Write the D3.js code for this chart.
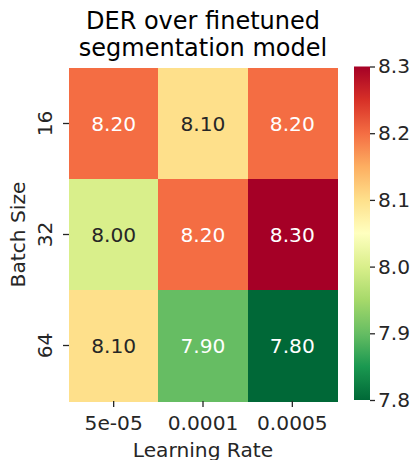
<!DOCTYPE html>
<html>
<head>
<meta charset="utf-8">
<script src="https://cdn.jsdelivr.net/npm/d3@7"></script>
<style>
  html, body { margin: 0; padding: 0; background: #fff; }
  svg { display: block; font-family: "DejaVu Sans", sans-serif; }
</style>
</head>
<body>
<svg id="chart" width="417" height="460"></svg>
<script>
// Diarization error rate grid: rows = batch size, columns = learning rate
const learningRates = ["5e-05", "0.0001", "0.0005"];
const batchSizes = ["16", "32", "64"];
const derValues = [
  [8.20, 8.10, 8.20],
  [8.00, 8.20, 8.30],
  [8.10, 7.90, 7.80]
];
const colorbarTicks = [7.8, 7.9, 8.0, 8.1, 8.2, 8.3];
const vmin = 7.8, vmax = 8.3;

const titleLines = ["DER over finetuned", "segmentation model"];
const xLabel = "Learning Rate";
const yLabel = "Batch Size";

// RdYlGn (ColorBrewer 11-class), reversed, linearly interpolated
const rdYlGn = ["#a50026", "#d73027", "#f46d43", "#fdae61", "#fee08b", "#ffffbf",
                "#d9ef8b", "#a6d96a", "#66bd63", "#1a9850", "#006837"];
const stops = rdYlGn.map((_, i) => vmax - (vmax - vmin) * i / (rdYlGn.length - 1));
const color = d3.scaleLinear().domain(stops).range(rdYlGn)
  .interpolate(d3.interpolateRgb).clamp(true);

const svg = d3.select("#chart");
const fs = 20.2;
const ink = "#262626";

const plot = { left: 69, right: 337, top: 68, bottom: 401 };
const x = d3.scaleBand().domain(learningRates).range([plot.left, plot.right]);
const y = d3.scaleBand().domain(batchSizes).range([plot.top, plot.bottom]);

// Cells
const cells = [];
batchSizes.forEach((b, i) => learningRates.forEach((lr, j) =>
  cells.push({ b, lr, v: derValues[i][j] })));

svg.append("g").selectAll("rect").data(cells).join("rect")
  .attr("x", d => x(d.lr))
  .attr("y", d => y(d.b))
  .attr("width", x.bandwidth() + 0.5)
  .attr("height", y.bandwidth() + 0.5)
  .attr("fill", d => color(d.v))
  .attr("shape-rendering", "crispEdges");

// Annotation text: light on dark cells, dark on light cells
function lum(c) {
  const r = d3.rgb(c);
  const f = v => { v /= 255; return v <= 0.03928 ? v / 12.92 : Math.pow((v + 0.055) / 1.055, 2.4); };
  return 0.2126 * f(r.r) + 0.7152 * f(r.g) + 0.0722 * f(r.b);
}
svg.append("g").selectAll("text").data(cells).join("text")
  .attr("x", d => x(d.lr) + x.bandwidth() / 2)
  .attr("y", d => y(d.b) + y.bandwidth() / 2)
  .attr("text-anchor", "middle")
  .attr("dominant-baseline", "central")
  .attr("font-size", fs)
  .attr("fill", d => lum(color(d.v)) > 0.408 ? ink : "#ffffff")
  .text(d => d.v.toFixed(2));

// Axes
const xAxis = svg.append("g")
  .attr("transform", `translate(0,${plot.bottom})`)
  .call(d3.axisBottom(x).tickSize(6).tickPadding(9));
xAxis.select(".domain").remove();
xAxis.selectAll(".tick line").attr("stroke", ink).attr("stroke-width", 1.3);
xAxis.selectAll(".tick text").attr("font-size", fs).attr("fill", ink)
  .attr("font-family", "DejaVu Sans");

const yAxis = svg.append("g")
  .attr("transform", `translate(${plot.left},0)`)
  .call(d3.axisLeft(y).tickSize(6));
yAxis.select(".domain").remove();
yAxis.selectAll(".tick line").attr("stroke", ink).attr("stroke-width", 1.3);
yAxis.selectAll(".tick text")
  .attr("font-size", fs).attr("fill", ink).attr("font-family", "DejaVu Sans")
  .attr("x", null).attr("dy", null)
  .attr("text-anchor", "middle")
  .attr("transform", "translate(-17,0) rotate(-90)")
  .attr("y", 0);

// Axis titles
svg.append("text")
  .attr("x", (plot.left + plot.right) / 2).attr("y", 456.5)
  .attr("text-anchor", "middle").attr("font-size", fs).attr("fill", ink)
  .text(xLabel);
svg.append("text")
  .attr("transform", `translate(25,${(plot.top + plot.bottom) / 2}) rotate(-90)`)
  .attr("text-anchor", "middle").attr("font-size", fs).attr("fill", ink)
  .text(yLabel);

// Title
svg.append("g").selectAll("text").data(titleLines).join("text")
  .attr("x", (plot.left + plot.right) / 2)
  .attr("y", (d, i) => 29 + i * 27)
  .attr("text-anchor", "middle").attr("font-size", 24).attr("fill", "#000")
  .text(d => d);

// Colorbar
const cb = { left: 354, width: 16, top: 66.5, bottom: 400 };
const cy = d3.scaleLinear().domain([vmin, vmax]).range([cb.bottom, cb.top]);
const defs = svg.append("defs");
const grad = defs.append("linearGradient").attr("id", "cbgrad")
  .attr("x1", 0).attr("y1", 1).attr("x2", 0).attr("y2", 0);
d3.range(0, 1.0001, 0.02).forEach(t => {
  grad.append("stop").attr("offset", t).attr("stop-color", color(vmin + t * (vmax - vmin)));
});
svg.append("rect")
  .attr("x", cb.left).attr("y", cb.top)
  .attr("width", cb.width).attr("height", cb.bottom - cb.top)
  .attr("fill", "url(#cbgrad)");

const cAxis = svg.append("g")
  .attr("transform", `translate(${cb.left + cb.width},0)`)
  .call(d3.axisRight(cy).tickValues(colorbarTicks).tickFormat(d3.format(".1f")).tickSize(5).tickPadding(3));
cAxis.select(".domain").remove();
cAxis.selectAll(".tick line").attr("stroke", ink).attr("stroke-width", 1.3);
cAxis.selectAll(".tick text").attr("font-size", fs).attr("fill", ink)
  .attr("font-family", "DejaVu Sans");
</script>
</body>
</html>
